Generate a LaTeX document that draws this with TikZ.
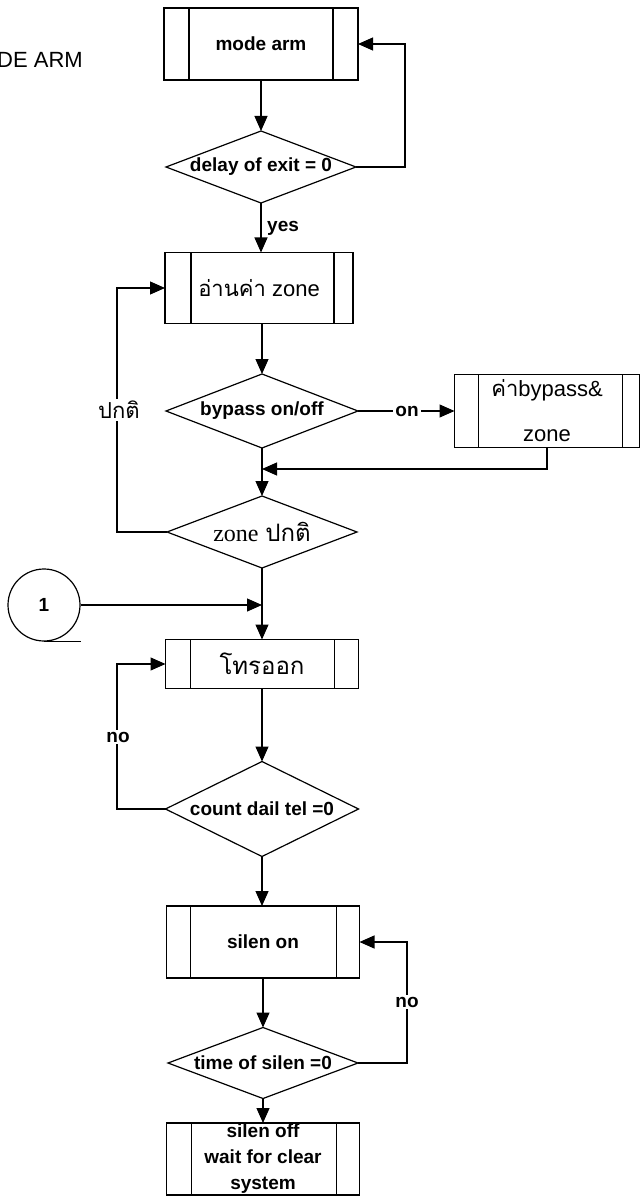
\documentclass[tikz,border=0pt]{standalone}
\usepackage{fontspec}
\setmainfont{Liberation Sans}
\newfontfamily\thaifont[Script=Thai]{Loma}
\newfontfamily\romanfont{Liberation Serif}
\usetikzlibrary{shapes.geometric,arrows.meta}

\tikzset{
  ln/.style={line width=1.2pt},
  arr/.style={line width=1.2pt, -{Triangle[length=15pt,width=13pt]}},
  lbl/.style={font=\fontsize{19}{26}\selectfont\bfseries, inner sep=0pt, align=center},
  thlbl/.style={font=\fontsize{22}{26}\selectfont, inner sep=0pt, align=center},
  % process box with two inner side bars, offsets from the left and right edges
  proc/.style 2 args={draw, line width=1.2pt, rectangle, inner sep=0pt, outer sep=0pt, align=center,
    path picture={
      \draw[line width=1.2pt] ([xshift=#1pt]path picture bounding box.north west)
        -- ([xshift=#1pt]path picture bounding box.south west);
      \draw[line width=1.2pt] ([xshift=-#2pt]path picture bounding box.north east)
        -- ([xshift=-#2pt]path picture bounding box.south east);
    }},
  dec/.style={draw, diamond, line width=1.2pt, inner sep=0pt, outer sep=0pt},
  tag/.style={fill=white, inner sep=2pt}
}

\begin{document}
\begin{tikzpicture}[x=1pt, y=-1pt]
  \useasboundingbox (0,0) rectangle (641,1198);
  \clip (0,0) rectangle (641,1198);

  % heading
  \node[font=\fontsize{22}{26}\selectfont, anchor=base east, inner sep=0pt] (title) at (83,68) {MODE ARM};

  % processes and decisions along the main axis
  \node[proc={25}{25}, minimum width=194pt, minimum height=72pt, lbl] (b1) at (261,44) {mode arm};
  \node[dec, minimum width=190pt, minimum height=72pt,
        label={[lbl]center:delay of exit = 0}] (d1) at (261,167) {};
  \node[proc={26}{19}, minimum width=188pt, minimum height=71pt, thlbl] (b2) at (259,288)
        {{\thaifont อ่านค่า} zone};
  \node[dec, minimum width=192pt, minimum height=74pt,
        label={[lbl]center:bypass on/off}] (d2) at (262,411) {};
  \node[proc={24}{17}, minimum width=185pt, minimum height=73pt,
        font=\fontsize{22}{45}\selectfont] (rb) at (547,411)
        {{\thaifont ค่า}bypass\&\\zone};
  \node[dec, minimum width=190pt, minimum height=72pt,
        label={[font=\fontsize{24}{28}\selectfont]center:{\romanfont zone} {\thaifont ปกติ}}] (d3) at (262,532) {};
  \node[proc={25}{24}, minimum width=193pt, minimum height=49pt,
        font=\fontsize{24}{28}\selectfont\thaifont] (b3) at (262,664) {โทรออก};
  \node[dec, minimum width=193pt, minimum height=95pt,
        label={[lbl]center:count dail tel =0}] (d4) at (262,809) {};
  \node[proc={24}{23}, minimum width=193pt, minimum height=72pt, lbl] (b4) at (263,942) {silen on};
  \node[dec, minimum width=190pt, minimum height=71pt,
        label={[lbl]center:time of silen =0}] (d5) at (263,1063) {};
  \node[proc={25}{23}, minimum width=193pt, minimum height=72pt, lbl] (b5) at (263,1159)
        {silen off\\wait for clear\\system};

  % connector from page 1
  \node[draw, circle, line width=1.2pt, minimum size=72pt, inner sep=0pt, lbl] (c1) at (44,605) {1};
  \draw[ln] (c1.south) -- (c1.south -| c1.east);

  % routing points
  \coordinate (j1) at (262,469);
  \coordinate (j2) at (262,605);
  \coordinate (xl) at (117,0);
  \coordinate (xr1) at (405,0);
  \coordinate (xr2) at (407,0);

  % main flow
  \draw[arr] (b1) -- (d1);
  \draw[arr] (d1.south) -- (d1.south |- b2.north);
  \node[lbl, anchor=west] (yes) at (267,228) {yes};
  \draw[arr] (d1.east) -- (d1.east -| xr1) |- (b1.east);
  \draw[arr] (b2.south -| d2.north) -- (d2.north);
  \draw[arr] (d2.east) -- (rb.west);
  \node[lbl, tag] (on) at (407,411) {on};
  \draw[arr] (rb.south) -- (rb.south |- j1) -- (j1);
  \draw[arr] (d2.south) -- (d3.north);
  \draw[arr] (d3.west) -- (d3.west -| xl) |- (b2.west);
  \node[thlbl, tag, font=\fontsize{22}{26}\selectfont\thaifont] (norm) at (119,410) {ปกติ};
  \draw[arr] (d3.south) -- (b3.north);
  \draw[arr] (c1.east) -- (j2);
  \draw[arr] (b3.south) -- (d4.north);
  \draw[arr] (d4.west) -- (d4.west -| xl) |- (b3.west);
  \node[lbl, tag] (no1) at (118,737) {no};
  \draw[arr] (d4.south) -- (d4.south |- b4.north);
  \draw[arr] (b4.south) -- (d5.north);
  \draw[arr] (d5.east) -- (d5.east -| xr2) |- (b4.east);
  \node[lbl, tag] (no2) at (407,1002) {no};
  \draw[arr] (d5.south) -- (b5.north);
\end{tikzpicture}
\end{document}
